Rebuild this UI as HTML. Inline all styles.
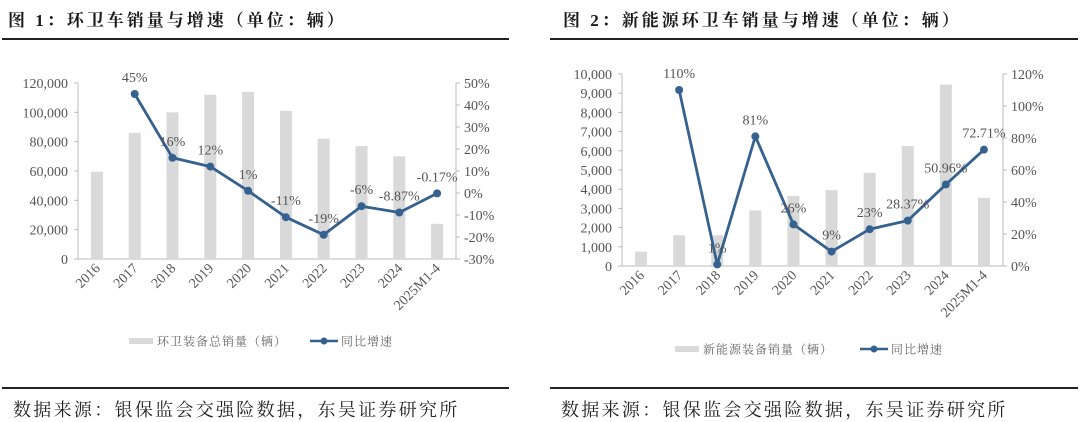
<!DOCTYPE html>
<html><head><meta charset="utf-8"><style>
body{margin:0;background:#fff;width:1080px;height:422px;overflow:hidden}
svg{display:block;font-family:"Liberation Serif","Noto Serif CJK SC",serif}
</style></head><body>
<svg id="s" width="1080" height="422" viewBox="0 0 1080 422">
<text x="8" y="26" font-size="17" font-weight="bold" letter-spacing="3" fill="#1a1a1a">图 1：环卫车销量与增速（单位：辆）</text>
<line x1="2" y1="39" x2="509" y2="39" stroke="#222" stroke-width="2"/>
<text x="563" y="26" font-size="17" font-weight="bold" letter-spacing="3" fill="#1a1a1a">图 2：新能源环卫车销量与增速（单位：辆）</text>
<line x1="550" y1="39" x2="1078" y2="39" stroke="#222" stroke-width="2"/>
<line x1="2" y1="388" x2="509" y2="388" stroke="#222" stroke-width="2"/>
<line x1="550" y1="388" x2="1078" y2="388" stroke="#222" stroke-width="2"/>
<text x="13" y="416" font-size="18" letter-spacing="2.3" fill="#222">数据来源：银保监会交强险数据，东吴证券研究所</text>
<text x="561" y="416" font-size="18" letter-spacing="2.3" fill="#222">数据来源：银保监会交强险数据，东吴证券研究所</text>
<g id="c1"></g>
<g id="c2"></g>
</svg>
<script>
const categories = ["2016","2017","2018","2019","2020","2021","2022","2023","2024","2025M1-4"];
const sales1 = [59500,86000,100000,112000,114000,101000,82000,77000,70000,24000];
const growth1 = [null,45,16,12,1,-11,-19,-6,-8.87,-0.17];
const growthLabels1 = ["","45%","16%","12%","1%","-11%","-19%","-6%","-8.87%","-0.17%"];
const leftTicks1 = [0,20000,40000,60000,80000,100000,120000];
const rightTicks1 = [-30,-20,-10,0,10,20,30,40,50];
const sales2 = [750,1600,1600,2900,3650,3950,4850,6250,9450,3550];
const growth2 = [null,110,1,81,26,9,23,28.37,50.96,72.71];
const growthLabels2 = ["","110%","1%","81%","26%","9%","23%","28.37%","50.96%","72.71%"];
const leftTicks2 = [0,1000,2000,3000,4000,5000,6000,7000,8000,9000,10000];
const rightTicks2 = [0,20,40,60,80,100,120];
const legendBar1 = "环卫装备总销量（辆）";
const legendBar2 = "新能源装备销量（辆）";
const legendLine = "同比增速";

const NS="http://www.w3.org/2000/svg";
function mk(p,t,a,txt){const e=document.createElementNS(NS,t);for(const k in a)e.setAttribute(k,a[k]);if(txt!==undefined)e.textContent=txt;p.appendChild(e);return e;}
function fmt(v){return v.toLocaleString("en-US");}
function draw(g,o){
  const lmin=o.lt[0],lmax=o.lt[o.lt.length-1],rmin=o.rt[0],rmax=o.rt[o.rt.length-1];
  const yL=v=>o.y1-(v-lmin)/(lmax-lmin)*(o.y1-o.y0);
  const yR=v=>o.y1-(v-rmin)/(rmax-rmin)*(o.y1-o.y0);
  const bw=(o.x1-o.x0)/categories.length;
  const xC=i=>o.x0+bw*(i+0.5);
  let e;
  e=mk(g,"line",{x1:o.x0,y1:o.y0,x2:o.x0,y2:o.y1,stroke:"#bbb"});
  
  
  e=mk(g,"line",{x1:o.x1,y1:o.y0,x2:o.x1,y2:o.y1,stroke:"#bbb"});
  
  
  e=mk(g,"line",{x1:o.x0-4,y1:o.y1,x2:o.x1+4,y2:o.y1,stroke:"#bbb"});
  
  
  o.lt.forEach(v=>{
    e=mk(g,"line",{x1:o.x0-4,y1:yL(v),x2:o.x0,y2:yL(v),stroke:"#bbb"});
    
    
    e=mk(g,"text",{x:o.x0-10,y:yL(v)+5,"font-size":14,"text-anchor":"end",fill:"#555"},fmt(v));
    
    
  });
  o.rt.forEach(v=>{
    e=mk(g,"line",{x1:o.x1,y1:yR(v),x2:o.x1+4,y2:yR(v),stroke:"#bbb"});
    
    
    e=mk(g,"text",{x:o.x1+8,y:yR(v)+5,"font-size":14,fill:"#555"},v+"%");
    
    
  });
  o.bars.forEach((v,i)=>{
    e=mk(g,"rect",{x:xC(i)-6,y:yL(v),width:12,height:o.y1-yL(v),fill:"#d9d9d9"});
    
    
    const tx=xC(i)+4,ty=o.y1+10;
    e=mk(g,"text",{x:tx,y:ty,"font-size":14,"text-anchor":"end",fill:"#555",transform:`rotate(-45 ${tx} ${ty})`},categories[i]);
    
    
  });
  const pts=[];
  o.line.forEach((v,i)=>{if(v!==null)pts.push([xC(i),yR(v),i]);});
  e=mk(g,"polyline",{points:pts.map(p=>p[0]+","+p[1]).join(" "),fill:"none",stroke:"#35618f","stroke-width":2.8,"stroke-linejoin":"round"});
  
  
  pts.forEach(p=>{
    e=mk(g,"circle",{cx:p[0],cy:p[1],r:4,fill:"#35618f"});
    
    
    e=mk(g,"text",{x:p[0],y:p[1]-12,"font-size":14,"text-anchor":"middle",fill:"#555"},o.labels[p[2]]);
    
    
  });
  const lx=o.legX,ly=o.legY;
  e=mk(g,"rect",{x:lx,y:ly-3,width:24,height:6,fill:"#d9d9d9"});
  
  
  e=mk(g,"text",{x:lx+28,y:ly+4.5,"font-size":12,"letter-spacing":1,fill:"#666"},o.legBar);
  
  
  e=mk(g,"line",{x1:o.leg2X,y1:ly,x2:o.leg2X+28,y2:ly,stroke:"#35618f","stroke-width":2.6});
  
  
  e=mk(g,"circle",{cx:o.leg2X+14,cy:ly,r:3.5,fill:"#35618f"});
  
  
  e=mk(g,"text",{x:o.leg2X+31,y:ly+4.5,"font-size":12,"letter-spacing":1,fill:"#666"},legendLine);
  
  
}
draw(document.getElementById("c1"),{x0:78,x1:456,y0:83,y1:259,lt:leftTicks1,rt:rightTicks1,bars:sales1,line:growth1,labels:growthLabels1,legX:129,leg2X:310,legY:341,legBar:legendBar1});
draw(document.getElementById("c2"),{x0:622,x1:1003,y0:74,y1:266,lt:leftTicks2,rt:rightTicks2,bars:sales2,line:growth2,labels:growthLabels2,legX:675,leg2X:860,legY:349,legBar:legendBar2});
</script>
</body></html>
